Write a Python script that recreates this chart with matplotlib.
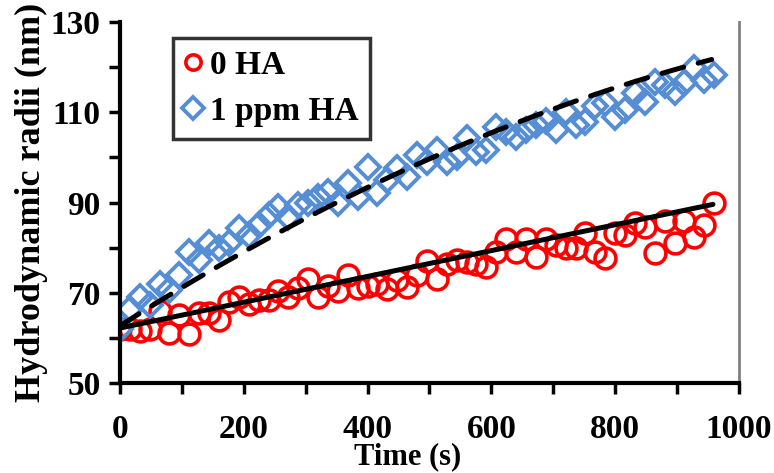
import numpy as np
import matplotlib
matplotlib.use('Agg')
import matplotlib.pyplot as plt

# time points (s)
time_s = [0, 16, 32, 48, 64, 80, 96, 112, 128, 144, 160, 176, 192, 208, 224, 240,
          256, 272, 288, 304, 320, 336, 352, 368, 384, 400, 416, 432, 448, 464, 480,
          496, 512, 528, 544, 560, 576, 592, 608, 624, 640, 656, 672, 688, 704, 720,
          736, 752, 768, 784, 800, 816, 832, 848, 864, 880, 896, 912, 928, 944, 960]

# hydrodynamic radii (nm), no HA
r_0ha = [62, 62, 61.5, 62, 66, 61, 65, 60.8, 65.5, 65.5, 64, 68, 69, 67.5, 68.5, 68.5,
         70.5, 69, 71, 73, 69, 71.5, 70.5, 74, 71, 71.5, 72, 70.8, 72.8, 71.2, 74,
         77, 73, 76.5, 77.2, 76.8, 76.5, 75.7, 79, 82, 79, 82, 78, 82, 80.5, 80,
         80, 83.2, 79, 77.7, 83.2, 82.8, 85.5, 84.5, 78.8, 86, 81, 86, 82.3, 85, 90]

# hydrodynamic radii (nm), 1 ppm HA
r_1ha = [62, 66.5, 69, 67.2, 72, 70.6, 74, 79, 77.2, 81, 79.9, 81, 84.3, 82.8, 85, 87.2,
         89, 86.8, 89.4, 90, 91.2, 92.3, 89.9, 94.3, 91.2, 97.8, 92.1, 95, 97.6, 95.6, 100.5,
         99, 101.6, 99, 100, 104.3, 101.2, 101.6, 106.7, 105.6, 104.5, 106, 107.2, 108, 106, 110,
         107.2, 107.8, 111.5, 112, 108.9, 110.5, 114.2, 112.3, 116.7, 116, 114.5, 116.5, 119.8, 117.1, 118.2]

# trendlines
trend_0ha_t = [0, 958]
trend_0ha_r = [62.2, 89.6]
trend_1ha_t = [0, 57, 132, 186, 239, 304, 375, 449, 509, 570, 635, 767, 835, 901, 956]
trend_1ha_r = [62, 67.7, 73.5, 78.3, 82.6, 87.6, 92.1, 96.5, 100, 103.4, 106.7, 113.4, 116.7, 120, 122.2]

font = 'Liberation Serif'
plt.rcParams['font.family'] = font
plt.rcParams['font.weight'] = 'bold'

fig = plt.figure(figsize=(7.74, 4.73), dpi=100)
ax = fig.add_axes([0.155, 0.19, 0.7997, 0.7635])

t = np.array(time_s, dtype=float)
ax.plot(t, r_0ha, linestyle='none', marker='o', markersize=15, markerfacecolor='none',
        markeredgecolor='#FF0000', markeredgewidth=2.6, label='0 HA', zorder=2)
ax.plot(t, r_1ha, linestyle='none', marker='D', markersize=12, markerfacecolor='none',
        markeredgecolor='#558ED5', markeredgewidth=2.8, label='1 ppm HA', zorder=2)

# trendlines
ax.plot(trend_0ha_t, trend_0ha_r, color='black', linewidth=3.6, zorder=3,
        solid_capstyle='round')
quad = np.polyfit(trend_1ha_t, trend_1ha_r, 2)
tt = np.linspace(trend_1ha_t[0], trend_1ha_t[-1], 200)
ax.plot(tt, np.polyval(quad, tt), color='black', linewidth=3.6, linestyle=(0, (4.5, 3)),
        dash_capstyle='round', zorder=3)

ax.set_xlim(0, 1000)
ax.set_ylim(50, 130)
ax.set_xticks(np.arange(0, 1001, 200))
ax.set_xticks(np.arange(0, 1001, 100), minor=True)
ax.set_yticks(np.arange(50, 131, 20))
ax.set_yticks(np.arange(50, 131, 10), minor=True)

ax.tick_params(which='both', direction='out', width=2.5, length=8, color='black')
ax.tick_params(which='major', labelsize=24)
ax.tick_params(axis='y', pad=6)
ax.tick_params(axis='x', pad=14)

for side in ('left', 'bottom'):
    ax.spines[side].set_linewidth(3)
ax.spines['top'].set_visible(False)
ax.spines['right'].set_color('#808080')
ax.spines['right'].set_linewidth(2)

ax.set_xlabel('Time (s)', fontsize=22, fontweight='bold', va='bottom')
ax.xaxis.set_label_coords(0.464, -0.245)
ax.set_ylabel('Hydrodynamic radii (nm)', fontsize=26, fontweight='bold', labelpad=2)

leg = ax.legend(loc='upper left', bbox_to_anchor=(0.086, 0.955), fontsize=24,
                frameon=True, fancybox=False, handlelength=0.5, handletextpad=0.25,
                borderpad=0.35, labelspacing=0.45, borderaxespad=0)
leg.get_frame().set_edgecolor('black')
leg.get_frame().set_linewidth(2.5)
for h in leg.legend_handles:
    h.set_markersize(11)

fig.savefig('out.png', dpi=100)
